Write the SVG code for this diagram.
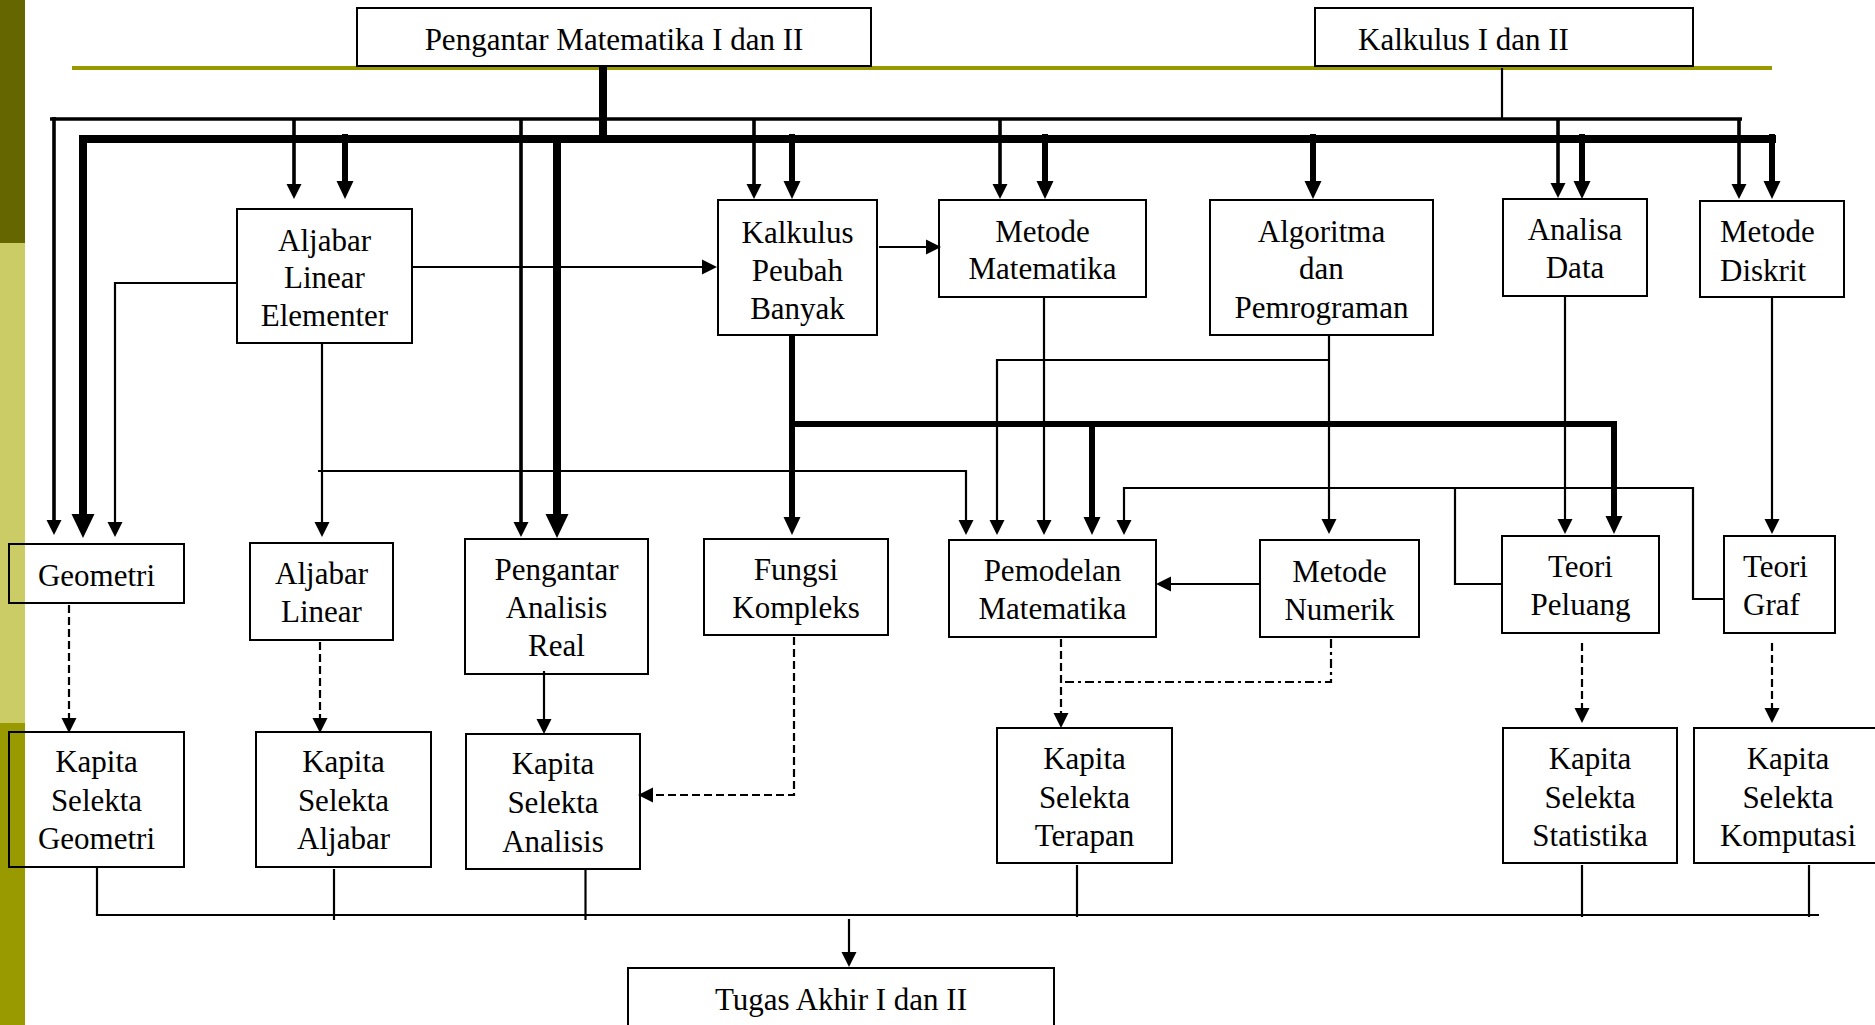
<svg xmlns="http://www.w3.org/2000/svg" width="1875" height="1025" viewBox="0 0 1875 1025">
<style>
.box{fill:none;stroke:#000;stroke-width:2}
.t{font-family:"Liberation Serif","Times New Roman",serif;font-size:31px;fill:#000;text-anchor:middle}
.ts{text-anchor:start}
.c{fill:none;stroke:#000;stroke-linejoin:miter}
.w2{stroke-width:2.2}
.w4{stroke-width:3.6}
.w6{stroke-width:6}
.w8{stroke-width:8}
.dash{stroke-dasharray:8 4}
.dd{stroke-dasharray:9 4 3 4}
.ah{marker-end:url(#ah)}
.am{marker-end:url(#am)}
.ab{marker-end:url(#ab)}
</style>
<defs>
<marker id="ah" markerUnits="userSpaceOnUse" markerWidth="15" markerHeight="15" refX="0" refY="7.5" orient="auto" overflow="visible"><path d="M0,0 L15,7.5 L0,15 z" fill="#000"/></marker>
<marker id="am" markerUnits="userSpaceOnUse" markerWidth="18" markerHeight="17" refX="0" refY="8.5" orient="auto" overflow="visible"><path d="M0,0 L18,8.5 L0,17 z" fill="#000"/></marker>
<marker id="ab" markerUnits="userSpaceOnUse" markerWidth="24" markerHeight="23" refX="0" refY="11.5" orient="auto" overflow="visible"><path d="M0,0 L24,11.5 L0,23 z" fill="#000"/></marker>
</defs>
<rect width="1875" height="1025" fill="#fff"/>
<g id="sidebar">
<rect x="0" y="0" width="25" height="243" fill="#666600"/>
<rect x="0" y="243" width="25" height="480" fill="#CCCC66"/>
<rect x="0" y="723" width="25" height="302" fill="#999900"/>
</g>
<line id="title-rule" x1="72" y1="68" x2="1772" y2="68" stroke="#999900" stroke-width="4"/>
<g id="connectors">
<!-- top sources -->
<path class="c w8" d="M603,66 V143"/>
<path class="c w2" d="M1502,68 V119"/>
<!-- thin bus -->
<path class="c w4" d="M50,119 H1742"/>
<path class="c w4 ah" d="M54,117 V520"/>
<path class="c w4 ah" d="M294,119 V184"/>
<path class="c w4 ah" d="M521,119 V522"/>
<path class="c w4 ah" d="M754,119 V184"/>
<path class="c w4 ah" d="M1000,119 V184"/>
<path class="c w4 ah" d="M1558,119 V183"/>
<path class="c w4 ah" d="M1739,119 V184"/>
<!-- thick bus -->
<path class="c w8" d="M79,139 H1776"/>
<path class="c w8 ab" d="M83,135 V514"/>
<path class="c w6 am" d="M345,134 V181"/>
<path class="c w8 ab" d="M557,135 V514"/>
<path class="c w6 am" d="M792,134 V181"/>
<path class="c w6 am" d="M1045,134 V181"/>
<path class="c w6 am" d="M1313,134 V181"/>
<path class="c w6 am" d="M1582,134 V181"/>
<path class="c w6 am" d="M1772,134 V181"/>
<!-- Aljabar Linear Elementer -->
<path class="c w2 ah" d="M237,283 H115 V522"/>
<path class="c w2 ah" d="M412,267 H702"/>
<path class="c w2 ah" d="M322,343 V522"/>
<path class="c w2 ah" d="M318,471 H966 V520"/>
<!-- Kalkulus Peubah Banyak -->
<path class="c w2 ah" d="M879,247 H926"/>
<path class="c w6 am" d="M792,335 V517"/>
<path class="c w6 am" d="M792,424 H1614 V516"/>
<path class="c w6 am" d="M1092,424 V517"/>
<!-- Metode Matematika, Algoritma -->
<path class="c w2 ah" d="M1044,297 V520"/>
<path class="c w2 ah" d="M1329,335 V519"/>
<path class="c w2 ah" d="M1329,360 H997 V520"/>
<!-- Teori Peluang / Teori Graf to Pemodelan -->
<path class="c w2 ah" d="M1724,599 H1693 V488 H1124 V520"/>
<path class="c w2" d="M1502,584 H1455 V488"/>
<path class="c w2 ah" d="M1260,584 H1171"/>
<!-- Analisa Data, Metode Diskrit -->
<path class="c w2 ah" d="M1565,296 V519"/>
<path class="c w2 ah" d="M1772,297 V519"/>
<!-- to Kapita Selekta -->
<path class="c w2 dash ah" d="M69,605 V718"/>
<path class="c w2 dash ah" d="M320,642 V718"/>
<path class="c w2 ah" d="M544,671 V719"/>
<path class="c w2 dash ah" d="M794,637 V795 H653"/>
<path class="c w2 dash ah" d="M1061,639 V713"/>
<path class="c w2 dd" d="M1331,639 V682 H1061"/>
<path class="c w2 dash ah" d="M1582,643 V708"/>
<path class="c w2 dash ah" d="M1772,643 V708"/>
<!-- bottom bus -->
<path class="c w2" d="M97,867 V915 H1819"/>
<path class="c w2" d="M334,869 V920"/>
<path class="c w2" d="M585.5,869 V920"/>
<path class="c w2" d="M1077,865 V917"/>
<path class="c w2" d="M1582,865 V917"/>
<path class="c w2" d="M1809,865 V917"/>
<path class="c w2 ah" d="M849,919 V952"/>
</g>
<g id="n-pengantar"><rect class="box" x="357" y="8" width="514" height="58"/><text class="t" x="614" y="50">Pengantar Matematika I dan II</text></g>
<g id="n-kalkulus"><rect class="box" x="1315" y="8" width="378" height="58"/><text class="t ts" x="1358" y="50">Kalkulus I dan II</text></g>
<g id="n-aljabar-linear-elementer"><rect class="box" x="237" y="209" width="175" height="134"/><text class="t" x="324.5" y="251">Aljabar</text><text class="t" x="324.5" y="288">Linear</text><text class="t" x="324.5" y="326">Elementer</text></g>
<g id="n-kalkulus-peubah-banyak"><rect class="box" x="718" y="200" width="159" height="135"/><text class="t" x="797.5" y="243">Kalkulus</text><text class="t" x="797.5" y="281">Peubah</text><text class="t" x="797.5" y="319">Banyak</text></g>
<g id="n-metode-matematika"><rect class="box" x="939" y="200" width="207" height="97"/><text class="t" x="1042.5" y="242">Metode</text><text class="t" x="1042.5" y="279">Matematika</text></g>
<g id="n-algoritma"><rect class="box" x="1210" y="200" width="223" height="135"/><text class="t" x="1321.5" y="242">Algoritma</text><text class="t" x="1321.5" y="279">dan</text><text class="t" x="1321.5" y="318">Pemrograman</text></g>
<g id="n-analisa-data"><rect class="box" x="1503" y="199" width="144" height="97"/><text class="t" x="1575" y="240">Analisa</text><text class="t" x="1575" y="278">Data</text></g>
<g id="n-metode-diskrit"><rect class="box" x="1700" y="201" width="144" height="96"/><text class="t ts" x="1720" y="242">Metode</text><text class="t ts" x="1720" y="281">Diskrit</text></g>
<g id="n-geometri"><rect class="box" x="9" y="544" width="175" height="59"/><text class="t" x="96.5" y="586">Geometri</text></g>
<g id="n-aljabar-linear"><rect class="box" x="250" y="543" width="143" height="97"/><text class="t" x="321.5" y="584">Aljabar</text><text class="t" x="321.5" y="622">Linear</text></g>
<g id="n-pengantar-analisis-real"><rect class="box" x="465" y="539" width="183" height="135"/><text class="t" x="556.5" y="580">Pengantar</text><text class="t" x="556.5" y="618">Analisis</text><text class="t" x="556.5" y="656">Real</text></g>
<g id="n-fungsi-kompleks"><rect class="box" x="704" y="539" width="184" height="96"/><text class="t" x="796" y="580">Fungsi</text><text class="t" x="796" y="618">Kompleks</text></g>
<g id="n-pemodelan"><rect class="box" x="949" y="540" width="207" height="97"/><text class="t" x="1052.5" y="581">Pemodelan</text><text class="t" x="1052.5" y="619">Matematika</text></g>
<g id="n-metode-numerik"><rect class="box" x="1260" y="540" width="159" height="97"/><text class="t" x="1339.5" y="582">Metode</text><text class="t" x="1339.5" y="620">Numerik</text></g>
<g id="n-teori-peluang"><rect class="box" x="1502" y="536" width="157" height="97"/><text class="t" x="1580.5" y="577">Teori</text><text class="t" x="1580.5" y="615">Peluang</text></g>
<g id="n-teori-graf"><rect class="box" x="1724" y="536" width="111" height="97"/><text class="t ts" x="1743" y="577">Teori</text><text class="t ts" x="1743" y="615">Graf</text></g>
<g id="n-ks-geometri"><rect class="box" x="9" y="732" width="175" height="135"/><text class="t" x="96.5" y="772">Kapita</text><text class="t" x="96.5" y="811">Selekta</text><text class="t" x="96.5" y="849">Geometri</text></g>
<g id="n-ks-aljabar"><rect class="box" x="256" y="732" width="175" height="135"/><text class="t" x="343.5" y="772">Kapita</text><text class="t" x="343.5" y="811">Selekta</text><text class="t" x="343.5" y="849">Aljabar</text></g>
<g id="n-ks-analisis"><rect class="box" x="466" y="734" width="174" height="135"/><text class="t" x="553" y="774">Kapita</text><text class="t" x="553" y="813">Selekta</text><text class="t" x="553" y="852">Analisis</text></g>
<g id="n-ks-terapan"><rect class="box" x="997" y="728" width="175" height="135"/><text class="t" x="1084.5" y="769">Kapita</text><text class="t" x="1084.5" y="808">Selekta</text><text class="t" x="1084.5" y="846">Terapan</text></g>
<g id="n-ks-statistika"><rect class="box" x="1503" y="728" width="174" height="135"/><text class="t" x="1590" y="769">Kapita</text><text class="t" x="1590" y="808">Selekta</text><text class="t" x="1590" y="846">Statistika</text></g>
<g id="n-ks-komputasi"><rect class="box" x="1694" y="728" width="190" height="135"/><text class="t" x="1788" y="769">Kapita</text><text class="t" x="1788" y="808">Selekta</text><text class="t" x="1788" y="846">Komputasi</text></g>
<g id="n-tugas-akhir"><rect class="box" x="628" y="968" width="426" height="70"/><text class="t" x="841" y="1010">Tugas Akhir I dan II</text></g>
</svg>
